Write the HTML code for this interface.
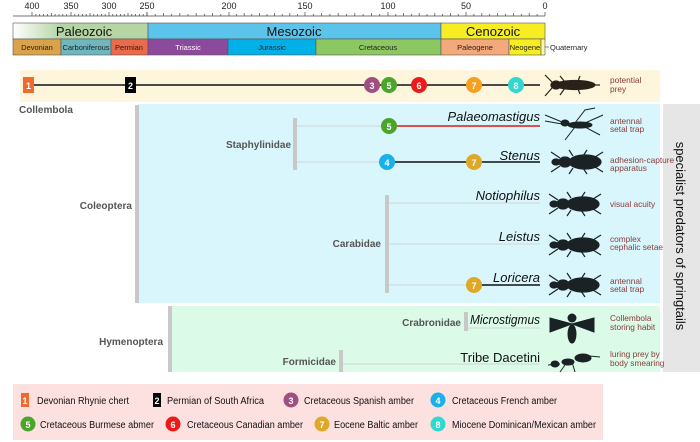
<!DOCTYPE html>
<html><head><meta charset="utf-8"><style>
html,body{margin:0;padding:0;background:#fff;}
svg{display:block;font-family:"Liberation Sans",sans-serif;}
.b{font-weight:bold;fill:#555;font-size:10px;}
.d{fill:#8a3a3a;font-size:8.3px;}
.g{font-size:13px;fill:#111;}
.lg{font-size:10px;fill:#111;}
.n{font-size:9px;fill:#fff;font-weight:bold;text-anchor:middle;}
</style></head><body>
<svg width="700" height="442" viewBox="0 0 700 442">
<defs>
<linearGradient id="pz" x1="0" x2="1"><stop offset="0" stop-color="#fff"/><stop offset="0.35" stop-color="#b5d5a5"/></linearGradient>
<g id="beetle" fill="#1a2226" stroke="#1a2226" stroke-width="1.2">
<ellipse cx="30" cy="0" rx="16" ry="7"/><ellipse cx="10" cy="0" rx="6" ry="5"/><ellipse cx="1" cy="0" rx="4" ry="3"/>
<path d="M5,-4 L-4,-10 M5,4 L-4,10 M18,-6 L14,-12 M18,6 L14,12 M28,-6 L32,-12 M28,6 L32,12 M40,-5 L48,-10 M40,5 L48,10" fill="none"/>
</g>
</defs>
<line x1="13" y1="16" x2="545" y2="16" stroke="#444" stroke-width="0.8"/>
<g stroke="#444" stroke-width="0.7">
<path d="M32,12V16M35.9,14V16M39.7,14V16M43.6,14V16M47.4,14V16M51.3,13V16M55.1,14V16M59,14V16M62.8,14V16M66.7,14V16M71,12V16M74.8,14V16M78.6,14V16M82.4,14V16M86.2,14V16M90,13V16M93.8,14V16M97.6,14V16M101.4,14V16M105.2,14V16M109,12V16M112.8,14V16M116.6,14V16M120.4,14V16M124.2,14V16M128,13V16M131.8,14V16M135.6,14V16M139.4,14V16M143.2,14V16M147,12V16"/>
<path d="M147,12V16M155.2,14V16M163.4,13V16M171.6,14V16M179.8,13V16M188,14V16M196.2,13V16M204.4,14V16M212.6,13V16M220.8,14V16M229,12V16M236.6,14V16M244.2,13V16M251.8,14V16M259.4,13V16M267,14V16M274.6,13V16M282.2,14V16M289.8,13V16M297.4,14V16M305,12V16M313.3,14V16M321.6,13V16M329.9,14V16M338.2,13V16M346.5,14V16M354.8,13V16M363.1,14V16M371.4,13V16M379.7,14V16M388,12V16M395.8,14V16M403.6,13V16M411.4,14V16M419.2,13V16M427,14V16M434.8,13V16M442.6,14V16M450.4,13V16M458.2,14V16M466,12V16M473.9,14V16M481.8,13V16M489.7,14V16M497.6,13V16M505.5,14V16M513.4,13V16M521.3,14V16M529.2,13V16M537.1,14V16M545,12V16"/>
</g>
<g font-size="9" fill="#222" text-anchor="middle">
<text x="32" y="9">400</text><text x="71" y="9">350</text><text x="109" y="9">300</text><text x="147" y="9">250</text><text x="229" y="9">200</text><text x="305" y="9">150</text><text x="388" y="9">100</text><text x="466" y="9">50</text><text x="545" y="9">0</text>
</g>
<g stroke="#555" stroke-width="0.6">
<rect x="13" y="23" width="135" height="16" fill="url(#pz)"/>
<rect x="148" y="23" width="293" height="16" fill="#5bc4ea"/>
<rect x="441" y="23" width="104" height="16" fill="#f6ee22"/>
<rect x="13" y="39" width="48" height="16" fill="#d9a24b"/>
<rect x="61" y="39" width="50" height="16" fill="#6fb6be"/>
<rect x="111" y="39" width="37" height="16" fill="#ea6a4a"/>
<rect x="148" y="39" width="80" height="16" fill="#8c4a9c"/>
<rect x="228" y="39" width="88" height="16" fill="#00b0e6"/>
<rect x="316" y="39" width="125" height="16" fill="#8dc761"/>
<rect x="441" y="39" width="68" height="16" fill="#f4a97c"/>
<rect x="509" y="39" width="32" height="16" fill="#f6ee22"/>
<rect x="541" y="39" width="4" height="16" fill="#fbf6b0"/>
</g>
<g text-anchor="middle" font-size="13" fill="#111">
<text x="84" y="36">Paleozoic</text><text x="294" y="36">Mesozoic</text><text x="493" y="36">Cenozoic</text>
</g>
<g text-anchor="middle" font-size="7.5" fill="#222">
<text x="37" y="50">Devonian</text><text x="86" y="50">Carboniferous</text><text x="129" y="50">Permian</text><text x="188" y="50" fill="#fff">Triassic</text><text x="272" y="50">Jurassic</text><text x="378" y="50">Cretaceous</text><text x="475" y="50">Paleogene</text><text x="525" y="50">Neogene</text>
</g>
<line x1="545" y1="47" x2="549" y2="47" stroke="#333" stroke-width="0.6"/>
<text x="550" y="50" font-size="7.5" fill="#222">Quaternary</text>
<rect x="20" y="70" width="640" height="32" fill="#fdf5dc"/>
<rect x="138" y="104" width="522" height="199" fill="#d8f6fb"/>
<rect x="170" y="306" width="490" height="66" fill="#dbfbe8"/>
<rect x="663" y="104" width="37" height="268" fill="#e6e6e6"/>
<rect x="13" y="384" width="590" height="56" fill="#fde0e0"/>
<line x1="30" y1="85" x2="540" y2="85" stroke="#111" stroke-width="1.5"/>
<rect x="23" y="77" width="11" height="16" fill="#ee6a30"/><text x="28.5" y="89" class="n">1</text>
<rect x="125" y="77" width="11" height="16" fill="#000"/><text x="130.5" y="89" class="n">2</text>
<circle cx="372" cy="85" r="8" fill="#a05080"/><text x="372" y="89" class="n">3</text>
<circle cx="389" cy="85" r="8" fill="#4aa52a"/><text x="389" y="89" class="n">5</text>
<circle cx="419" cy="85" r="8" fill="#ee1a1a"/><text x="419" y="89" class="n">6</text>
<circle cx="474" cy="85" r="8" fill="#f5a020"/><text x="474" y="89" class="n">7</text>
<circle cx="516" cy="85" r="8" fill="#30d8d0"/><text x="516" y="89" class="n">8</text>
<g fill="#2a2218" stroke="#2a2218" stroke-width="1.2">
<ellipse cx="575" cy="85" rx="20" ry="4.5"/><ellipse cx="556" cy="85" rx="5" ry="4"/>
<path d="M552,82 L545,75 M552,88 L545,96 M565,82 L560,76 M565,88 L560,95 M578,81 L580,76 M578,89 L580,94 M594,85 L600,85" fill="none"/>
</g>
<text x="610" y="83" class="d">potential</text><text x="610" y="92" class="d">prey</text>
<text x="19" y="113" class="b">Collembola</text>
<rect x="135" y="105" width="4" height="198" fill="#c8c8c8"/>
<text x="132" y="209" class="b" text-anchor="end">Coleoptera</text>
<rect x="293" y="118" width="4" height="52" fill="#c8c8c8"/>
<text x="291" y="148" class="b" text-anchor="end">Staphylinidae</text>
<g stroke="#cfd6d8" stroke-width="1"><line x1="297" y1="126" x2="385" y2="126"/><line x1="297" y1="162" x2="385" y2="162"/>
<line x1="389" y1="203" x2="540" y2="203"/><line x1="389" y1="244" x2="540" y2="244"/><line x1="389" y1="285" x2="470" y2="285"/></g>
<line x1="396" y1="126" x2="540" y2="126" stroke="#e01818" stroke-width="1.6"/>
<line x1="393" y1="162" x2="540" y2="162" stroke="#111" stroke-width="1.6"/>
<line x1="478" y1="285" x2="540" y2="285" stroke="#111" stroke-width="1.6"/>
<circle cx="389" cy="126" r="8" fill="#4aa52a"/><text x="389" y="130" class="n">5</text>
<circle cx="387" cy="162" r="8" fill="#1ab0e8"/><text x="387" y="166" class="n">4</text>
<circle cx="474" cy="162" r="8" fill="#e0a828"/><text x="474" y="166" class="n">7</text>
<circle cx="474" cy="285" r="8" fill="#e0a828"/><text x="474" y="289" class="n">7</text>
<rect x="385" y="195" width="4" height="98" fill="#c8c8c8"/>
<text x="381" y="247" class="b" text-anchor="end">Carabidae</text>
<rect x="168" y="306" width="4" height="66" fill="#c8c8c8"/>
<text x="163" y="345" class="b" text-anchor="end">Hymenoptera</text>
<rect x="464" y="312" width="4" height="19" fill="#c8c8c8"/>
<text x="461" y="326" class="b" text-anchor="end">Crabronidae</text>
<line x1="468" y1="328" x2="540" y2="328" stroke="#cfd6d8"/>
<rect x="339" y="350" width="4" height="22" fill="#c8c8c8"/>
<text x="336" y="365" class="b" text-anchor="end">Formicidae</text>
<line x1="343" y1="364" x2="540" y2="364" stroke="#cfd6d8"/>
<g class="g" font-style="italic" text-anchor="end">
<text x="540" y="121">Palaeomastigus</text><text x="540" y="160">Stenus</text><text x="540" y="200">Notiophilus</text><text x="540" y="241">Leistus</text><text x="540" y="282">Loricera</text><text x="540" y="324" textLength="70" lengthAdjust="spacingAndGlyphs">Microstigmus</text>
</g>
<text x="540" y="362" class="g" text-anchor="end">Tribe Dacetini</text>
<g fill="#1a2226" stroke="#1a2226" stroke-width="1">
<ellipse cx="580" cy="125" rx="12" ry="3"/><ellipse cx="565" cy="123" rx="4" ry="3"/>
<path d="M562,122 L545,115 M562,124 L545,121 M575,123 L585,110 L595,108 M575,127 L565,140 M585,127 L600,135 M585,123 L603,115" fill="none"/>
</g>
<use href="#beetle" x="555" y="162"/>
<use href="#beetle" x="553" y="204"/>
<use href="#beetle" x="553" y="245"/>
<use href="#beetle" x="553" y="285"/>
<g fill="#1a2226" stroke="#1a2226" stroke-width="1">
<path d="M550,318 L572,324 L550,332 Z M594,318 L572,324 L594,332 Z"/>
<ellipse cx="572" cy="318" rx="4" ry="4"/><ellipse cx="572" cy="334" rx="4" ry="9"/>
<ellipse cx="583" cy="358" rx="8" ry="4"/><ellipse cx="568" cy="362" rx="6" ry="3"/><ellipse cx="555" cy="364" rx="4" ry="3"/>
<path d="M560,364 L548,365 M565,365 L560,372 M572,362 L575,372 M590,356 L600,357" fill="none"/>
</g>
<g class="d">
<text x="610" y="124">antennal</text><text x="610" y="132">setal trap</text>
<text x="610" y="163">adhesion-capture</text><text x="610" y="171">apparatus</text>
<text x="610" y="207">visual acuity</text>
<text x="610" y="242">complex</text><text x="610" y="250">cephalic setae</text>
<text x="610" y="284">antennal</text><text x="610" y="292">setal trap</text>
<text x="610" y="321">Collembola</text><text x="610" y="330">storing habit</text>
<text x="610" y="357">luring prey by</text><text x="610" y="366">body smearing</text>
</g>
<text transform="translate(676,236) rotate(90)" text-anchor="middle" font-size="13" fill="#111">specialist predators of springtails</text>
<rect x="21" y="393" width="8" height="14" fill="#ee6a30"/><text x="25" y="404" class="n">1</text>
<rect x="153" y="393" width="8" height="14" fill="#000"/><text x="157" y="404" class="n">2</text>
<circle cx="291" cy="400" r="7.5" fill="#a05080"/><text x="291" y="404" class="n">3</text>
<circle cx="438" cy="400" r="7.5" fill="#1ab0e8"/><text x="438" y="404" class="n">4</text>
<circle cx="28" cy="424" r="7.5" fill="#4aa52a"/><text x="28" y="428" class="n">5</text>
<circle cx="173" cy="424" r="7.5" fill="#ee1a1a"/><text x="173" y="428" class="n">6</text>
<circle cx="322" cy="424" r="7.5" fill="#e0a828"/><text x="322" y="428" class="n">7</text>
<circle cx="438" cy="424" r="7.5" fill="#30d8d0"/><text x="438" y="428" class="n">8</text>
<g class="lg">
<text x="37" y="404" textLength="92" lengthAdjust="spacingAndGlyphs">Devonian Rhynie chert</text>
<text x="167" y="404" textLength="97" lengthAdjust="spacingAndGlyphs">Permian of South Africa</text>
<text x="304" y="404" textLength="110" lengthAdjust="spacingAndGlyphs">Cretaceous Spanish amber</text>
<text x="452" y="404" textLength="105" lengthAdjust="spacingAndGlyphs">Cretaceous French amber</text>
<text x="40" y="428" textLength="114" lengthAdjust="spacingAndGlyphs">Cretaceous Burmese abmer</text>
<text x="187" y="428" textLength="116" lengthAdjust="spacingAndGlyphs">Cretaceous Canadian amber</text>
<text x="334" y="428" textLength="84" lengthAdjust="spacingAndGlyphs">Eocene Baltic amber</text>
<text x="452" y="428" textLength="144" lengthAdjust="spacingAndGlyphs">Miocene Dominican/Mexican amber</text>
</g>
</svg>
</body></html>
